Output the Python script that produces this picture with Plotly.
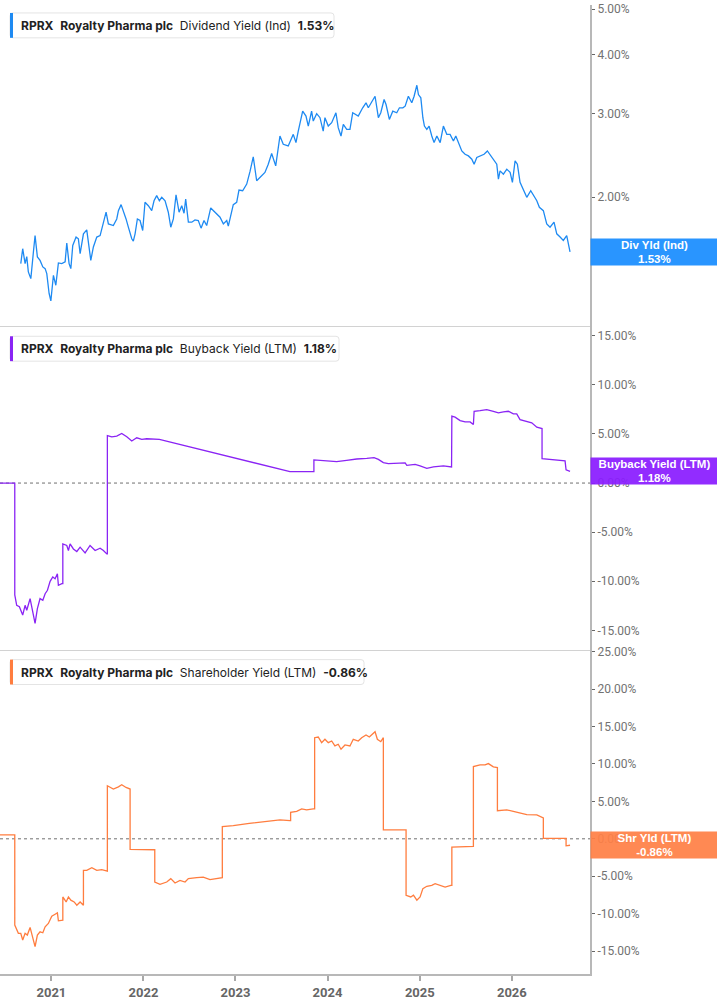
import plotly.graph_objects as go
from plotly.subplots import make_subplots
from datetime import datetime
import math

# ---------------- DATA (time as decimal years, values in %) ----------------
div_t = [2020.668, 2020.689, 2020.715, 2020.733, 2020.750, 2020.777, 2020.805, 2020.823, 2020.848, 2020.877,
         2020.907, 2020.932, 2020.950, 2020.975, 2020.994, 2021.022, 2021.048, 2021.076, 2021.113, 2021.149,
         2021.167, 2021.192, 2021.211, 2021.232, 2021.268, 2021.293, 2021.312, 2021.348, 2021.384, 2021.402,
         2021.428, 2021.456, 2021.493, 2021.529, 2021.547, 2021.594, 2021.619, 2021.673, 2021.710, 2021.728,
         2021.757, 2021.782, 2021.811, 2021.836, 2021.873, 2021.890, 2021.909, 2021.934, 2021.963, 2021.992,
         2022.017, 2022.053, 2022.090, 2022.115, 2022.144, 2022.173, 2022.199, 2022.235, 2022.270, 2022.297,
         2022.325, 2022.354, 2022.387, 2022.416, 2022.441, 2022.459, 2022.488, 2022.525, 2022.560, 2022.596,
         2022.626, 2022.658, 2022.687, 2022.731, 2022.778, 2022.832, 2022.868, 2022.905, 2022.922, 2022.948,
         2022.976, 2023.013, 2023.038, 2023.078, 2023.122, 2023.158, 2023.193, 2023.230, 2023.266, 2023.320,
         2023.356, 2023.393, 2023.437, 2023.483, 2023.519, 2023.573, 2023.628, 2023.657, 2023.682, 2023.730,
         2023.766, 2023.791, 2023.827, 2023.845, 2023.882, 2023.918, 2023.953, 2023.972, 2024.008, 2024.045,
         2024.091, 2024.116, 2024.146, 2024.171, 2024.208, 2024.243, 2024.273, 2024.298, 2024.333, 2024.381,
         2024.417, 2024.442, 2024.479, 2024.515, 2024.551, 2024.577, 2024.613, 2024.634, 2024.670, 2024.707,
         2024.750, 2024.779, 2024.816, 2024.841, 2024.876, 2024.913, 2024.938, 2024.968, 2024.985, 2025.011,
         2025.033, 2025.050, 2025.076, 2025.101, 2025.130, 2025.155, 2025.185, 2025.221, 2025.256, 2025.293,
         2025.329, 2025.365, 2025.391, 2025.419, 2025.456, 2025.492, 2025.528, 2025.565, 2025.590, 2025.619,
         2025.655, 2025.698, 2025.734, 2025.771, 2025.810, 2025.836, 2025.854, 2025.872, 2025.908, 2025.945,
         2025.981, 2026.006, 2026.035, 2026.060, 2026.089, 2026.125, 2026.162, 2026.205, 2026.234, 2026.271,
         2026.299, 2026.342, 2026.379, 2026.415, 2026.458, 2026.488, 2026.524, 2026.559, 2026.596, 2026.632]
div_v = [1.445, 1.554, 1.445, 1.495, 1.388, 1.343, 1.529, 1.657, 1.493, 1.468,
         1.422, 1.41, 1.376, 1.249, 1.205, 1.365, 1.30, 1.45, 1.445, 1.457,
         1.597, 1.445, 1.41, 1.579, 1.645, 1.631, 1.517, 1.671, 1.704, 1.618,
         1.468, 1.567, 1.645, 1.657, 1.704, 1.857, 1.754, 1.74, 1.797, 1.871,
         1.927, 1.871, 1.797, 1.726, 1.631, 1.613, 1.671, 1.797, 1.783, 1.698,
         1.949, 1.917, 1.871, 1.964, 2.013, 1.964, 1.997, 1.964, 1.857, 1.726,
         1.797, 2.022, 1.857, 1.917, 1.848, 1.981, 1.769, 1.769, 1.789, 1.783,
         1.718, 1.783, 1.74, 1.896, 1.857, 1.812, 1.754, 1.783, 1.735, 1.818,
         1.927, 1.949, 2.069, 2.062, 2.13, 2.266, 2.432, 2.165, 2.201, 2.255,
         2.347, 2.473, 2.328, 2.693, 2.587, 2.566, 2.715, 2.608, 2.759, 3.041,
         2.968, 2.827, 3.041, 2.897, 3.003, 2.945, 2.759, 2.945, 2.827, 2.874,
         3.017, 2.805, 2.693, 2.851, 2.782, 2.782, 3.017, 2.992, 2.968, 3.091,
         3.167, 3.091, 3.183, 3.27, 2.945, 3.017, 3.218, 3.141, 2.921, 3.041,
         3.017, 3.091, 3.091, 3.115, 3.27, 3.167, 3.27, 3.45, 3.297, 3.245,
         2.945, 2.827, 2.782, 2.827, 2.693, 2.608, 2.693, 2.608, 2.827, 2.715,
         2.715, 2.629, 2.693, 2.608, 2.504, 2.464, 2.444, 2.405, 2.347, 2.425,
         2.444, 2.464, 2.504, 2.444, 2.385, 2.347, 2.183, 2.272, 2.236, 2.291,
         2.255, 2.148, 2.385, 2.347, 2.148, 2.079, 1.997, 2.062, 2.013, 1.964,
         1.902, 1.871, 1.754, 1.726, 1.769, 1.671, 1.645, 1.618, 1.657, 1.53]

bb_t = [2020.443, 2020.603, 2020.603, 2020.624, 2020.653, 2020.689, 2020.715, 2020.733, 2020.769, 2020.794,
        2020.823, 2020.848, 2020.877, 2020.907, 2020.932, 2020.957, 2020.986, 2021.015, 2021.040, 2021.065,
        2021.076, 2021.113, 2021.124, 2021.124, 2021.167, 2021.185, 2021.203, 2021.239, 2021.276, 2021.312,
        2021.366, 2021.420, 2021.475, 2021.529, 2021.565, 2021.602, 2021.608, 2021.608, 2021.656, 2021.710,
        2021.764, 2021.819, 2021.873, 2021.927, 2021.982, 2022.036, 2022.108, 2022.173, 2023.592, 2023.852,
        2023.852, 2023.918, 2023.990, 2024.099, 2024.207, 2024.316, 2024.425, 2024.504, 2024.551, 2024.605,
        2024.659, 2024.750, 2024.841, 2024.859, 2024.949, 2025.003, 2025.076, 2025.148, 2025.256, 2025.345,
        2025.348, 2025.383, 2025.438, 2025.492, 2025.546, 2025.582, 2025.590, 2025.655, 2025.727, 2025.799,
        2025.854, 2025.908, 2025.962, 2026.016, 2026.053, 2026.089, 2026.162, 2026.216, 2026.271, 2026.328,
        2026.328, 2026.415, 2026.488, 2026.578, 2026.589, 2026.632]
bb_v = [0.0, 0.0, -11.4, -12.45, -12.6, -13.45, -12.45, -12.95, -11.77, -12.79,
        -14.3, -12.79, -11.77, -11.94, -11.27, -10.92, -10.01, -9.57, -9.75, -9.24,
        -10.42, -10.25, -10.25, -6.2, -6.36, -6.87, -6.2, -6.71, -6.97, -6.53,
        -7.11, -6.36, -6.87, -6.64, -6.87, -7.21, -7.21, 4.84, 4.71, 4.78,
        5.05, 4.71, 4.28, 4.61, 4.44, 4.51, 4.51, 4.44, 1.16, 1.16,
        2.35, 2.31, 2.25, 2.18, 2.31, 2.45, 2.51, 2.58, 2.41, 2.08,
        1.98, 2.05, 2.05, 1.8, 1.9, 1.74, 1.5, 1.64, 1.74, 1.64,
        6.81, 6.71, 6.36, 6.23, 6.23, 5.96, 7.31, 7.38, 7.48, 7.31,
        7.14, 7.24, 7.31, 7.04, 7.04, 6.46, 6.23, 6.13, 5.69, 5.55,
        2.48, 2.38, 2.35, 2.25, 1.34, 1.18]

shr_t = [2020.443, 2020.603, 2020.603, 2020.642, 2020.668, 2020.689, 2020.715, 2020.739, 2020.769, 2020.794,
         2020.823, 2020.848, 2020.877, 2020.907, 2020.932, 2020.967, 2021.004, 2021.040, 2021.065, 2021.076,
         2021.113, 2021.124, 2021.124, 2021.160, 2021.185, 2021.211, 2021.247, 2021.276, 2021.312, 2021.341,
         2021.348, 2021.348, 2021.384, 2021.439, 2021.493, 2021.547, 2021.602, 2021.608, 2021.608, 2021.673,
         2021.728, 2021.764, 2021.811, 2021.847, 2021.855, 2021.855, 2021.963, 2022.115, 2022.123, 2022.123,
         2022.180, 2022.253, 2022.297, 2022.343, 2022.397, 2022.452, 2022.488, 2022.579, 2022.650, 2022.723,
         2022.796, 2022.850, 2022.857, 2022.857, 2022.976, 2023.150, 2023.320, 2023.483, 2023.592, 2023.599,
         2023.599, 2023.665, 2023.719, 2023.773, 2023.845, 2023.860, 2023.860, 2023.899, 2023.936, 2023.972,
         2024.008, 2024.045, 2024.080, 2024.116, 2024.146, 2024.189, 2024.243, 2024.279, 2024.333, 2024.370,
         2024.417, 2024.453, 2024.515, 2024.540, 2024.577, 2024.598, 2024.605, 2024.605, 2024.732, 2024.841,
         2024.851, 2024.851, 2024.902, 2024.931, 2024.968, 2025.003, 2025.033, 2025.076, 2025.130, 2025.166,
         2025.221, 2025.275, 2025.337, 2025.348, 2025.348, 2025.438, 2025.576, 2025.582, 2025.582, 2025.619,
         2025.655, 2025.709, 2025.745, 2025.799, 2025.836, 2025.843, 2025.843, 2025.945, 2026.016, 2026.089,
         2026.162, 2026.271, 2026.335, 2026.342, 2026.342, 2026.578, 2026.589, 2026.589, 2026.632]
shr_v = [0.53, 0.53, -11.53, -12.63, -12.63, -13.52, -12.63, -12.86, -11.84, -13.09,
         -14.41, -12.86, -12.42, -12.55, -11.76, -11.3, -10.33, -10.07, -9.89, -10.96,
         -10.86, -10.86, -7.77, -8.43, -7.77, -8.2, -8.43, -8.87, -8.43, -8.87,
         -8.87, -4.22, -4.22, -3.86, -4.22, -4.12, -4.31, -4.31, 7.09, 6.65,
         6.95, 7.22, 6.86, 6.65, 6.65, -1.42, -1.46, -1.46, -1.46, -5.77,
         -6.08, -5.77, -5.32, -5.9, -5.55, -5.77, -5.32, -5.19, -5.11, -5.45,
         -5.32, -5.19, -5.19, 1.64, 1.77, 2.07, 2.3, 2.53, 2.43, 2.43,
         3.54, 3.67, 3.99, 3.86, 3.99, 3.99, 13.51, 13.6, 12.85, 13.3,
         12.85, 13.07, 12.41, 12.63, 11.97, 12.54, 12.41, 13.3, 13.07, 13.51,
         13.87, 13.6, 14.31, 13.3, 12.98, 13.51, 13.51, 1.2, 1.2, 1.2,
         1.2, -7.54, -7.77, -7.54, -8.2, -7.77, -6.65, -6.34, -6.21, -5.98,
         -6.21, -6.44, -6.21, -6.21, -1.12, -1.12, -1.02, -1.02, 9.65, 9.75,
         9.88, 9.88, 10.05, 9.61, 9.52, 9.52, 3.76, 3.86, 3.67, 3.4,
         3.23, 3.19, 2.79, 2.79, 0.05, 0.05, 0.05, -0.93, -0.86]

div_ticks = [2, 3, 4, 5]
bb_ticks = [-15, -10, -5, 0, 5, 10, 15]
shr_ticks = [-15, -10, -5, 0, 5, 10, 15, 20, 25]
year_ticks = ["2021-01-01", "2022-01-01", "2023-01-01", "2024-01-01", "2025-01-01", "2026-01-01"]

ticker = "RPRX"
company = "Royalty Pharma plc"
series_names = ["Dividend Yield (Ind)", "Buyback Yield (LTM)", "Shareholder Yield (LTM)"]
short_names = ["Div Yld (Ind)", "Buyback Yield (LTM)", "Shr Yld (LTM)"]
line_colors = ["#1E8AF2", "#8A24F4", "#FF7D3F"]
box_colors = ["rgba(30,143,255,0.95)", "rgba(138,28,255,0.93)", "rgba(255,128,70,0.93)"]


def to_date(t):
    y = int(t)
    a, b = datetime(y, 1, 1), datetime(y + 1, 1, 1)
    return a + (b - a) * (t - y)


W, H = 717, 1005
PL, PR, PT, PB = 0, 590, 0, 974  # plot area in pixels
pw, ph = PR - PL, PB - PT


def px(x):
    return (x - PL) / pw


def py(y):
    return 1 - (y - PT) / ph


fig = make_subplots(rows=3, cols=1, shared_xaxes=True, vertical_spacing=0)

fig.add_trace(go.Scatter(x=[to_date(t) for t in div_t], y=div_v, mode="lines",
                         line=dict(color=line_colors[0], width=1.3), hoverinfo="skip"), row=1, col=1)
fig.add_trace(go.Scatter(x=[to_date(t) for t in bb_t], y=bb_v, mode="lines",
                         line=dict(color=line_colors[1], width=1.3), hoverinfo="skip"), row=2, col=1)
fig.add_trace(go.Scatter(x=[to_date(t) for t in shr_t], y=shr_v, mode="lines",
                         line=dict(color=line_colors[2], width=1.3), hoverinfo="skip"), row=3, col=1)

xrange = [to_date(2020.443), to_date(2026.849)]
axis_line = "#b8b8b8"
tickfont = dict(family="Roboto", size=12, color="#727272")

for i, ax in enumerate(["xaxis", "xaxis2", "xaxis3"]):
    common = dict(type="date", range=xrange, showgrid=False, zeroline=False, fixedrange=True)
    if i < 2:
        fig.layout[ax].update(showticklabels=False, ticks="", showline=True,
                              linecolor="#d2d2d2", linewidth=1, **common)
    else:
        fig.layout[ax].update(showticklabels=True, tickvals=year_ticks, tickformat="%Y",
                              ticks="outside", ticklen=5, tickwidth=2, tickcolor="#a8a8a8",
                              showline=True, linecolor=axis_line, linewidth=2,
                              tickfont=dict(family="Roboto", size=13, color="#666666", weight="bold"),
                              **common)

domains = [[py(323), 1.0], [py(648), py(323)], [0.0, py(648)]]

yc = dict(side="right", showgrid=False, zeroline=False, showline=True, linecolor=axis_line,
          linewidth=2, ticks="outside", ticklen=3, tickcolor="#666666", tickfont=tickfont,
          fixedrange=True)
fig.layout.yaxis.update(type="log", range=[math.log10(1.064), math.log10(5.104)],
                        tickvals=div_ticks, ticktext=[f"{v:.2f}%" for v in div_ticks],
                        domain=domains[0], **yc)
fig.layout.yaxis2.update(range=[-16.97, 15.96], tickvals=bb_ticks,
                         ticktext=[f"{v:.2f}%" for v in bb_ticks], domain=domains[1], **yc)
fig.layout.yaxis3.update(range=[-18.06, 25.27], tickvals=shr_ticks,
                         ticktext=[f"{v:.2f}%" for v in shr_ticks], domain=domains[2], **yc)

shapes = []
# zero reference lines
for yr in ["y2", "y3"]:
    shapes.append(dict(type="line", xref="paper", yref=yr, x0=0, x1=1, y0=0, y1=0,
                       line=dict(color="#6f6f6f", width=1, dash="dot"), layer="below"))


def rounded_rect(x0, y0, x1, y1, r=3):
    rx, ry = r / pw, r / ph
    X0, X1 = px(x0), px(x1)
    Y0, Y1 = py(y0), py(y1)  # Y0 top (bigger), Y1 bottom
    return (f"M {X0+rx},{Y0} L {X1-rx},{Y0} Q {X1},{Y0} {X1},{Y0-ry} "
            f"L {X1},{Y1+ry} Q {X1},{Y1} {X1-rx},{Y1} L {X0+rx},{Y1} "
            f"Q {X0},{Y1} {X0},{Y1+ry} L {X0},{Y0-ry} Q {X0},{Y0} {X0+rx},{Y0} Z")


legend_boxes = [(8, 334), (333, 339), (658, 364)]  # (top y, right x)
last_vals = [div_v[-1], bb_v[-1], shr_v[-1]]
annotations = []
for i, (top, right) in enumerate(legend_boxes):
    bot = top + 25
    shapes.append(dict(type="path", xref="paper", yref="paper", path=rounded_rect(10, top, right, bot),
                       fillcolor="white", line=dict(color="#e4e4e4", width=1), layer="above"))
    shapes.append(dict(type="rect", xref="paper", yref="paper", x0=px(10), x1=px(13),
                       y0=py(bot), y1=py(top), fillcolor=line_colors[i], line=dict(width=0),
                       layer="above"))
    sp = "\u00a0\u00a0"
    txt = (f"<b>{ticker}</b>{sp}<b>{company}</b>{sp}{series_names[i]}{sp}"
           f"<b>{last_vals[i]:.2f}%</b>")
    annotations.append(dict(xref="paper", yref="paper", x=px(19), y=py(top + 12.5),
                            xanchor="left", yanchor="middle", text=txt, showarrow=False,
                            font=dict(family="Inter", size=12, color="#222222")))

# value tags on the right axis
yrefs = ["y", "y2", "y3"]
for i in range(3):
    yv = math.log10(last_vals[i]) if i == 0 else last_vals[i]
    annotations.append(dict(xref="paper", yref=yrefs[i], x=1, y=yv, xanchor="left",
                            yanchor="middle", showarrow=False, width=125, height=24, borderpad=1,
                            align="center", valign="middle", bgcolor=box_colors[i],
                            text=f"<b>{short_names[i]}</b><br><b>{last_vals[i]:.2f}%</b>",
                            font=dict(family="Liberation Sans", size=11.5, color="white")))

fig.update_layout(width=W, height=H, margin=dict(l=PL, r=W - PR, t=PT, b=H - PB, pad=0),
                  paper_bgcolor="white", plot_bgcolor="white", showlegend=False,
                  shapes=shapes, annotations=annotations, hovermode=False)

fig.write_html("out.html", config={"displayModeBar": False, "staticPlot": True},
               post_script="document.body.style.margin='0';document.body.style.padding='0';"
                           "document.documentElement.style.overflow='hidden';")
